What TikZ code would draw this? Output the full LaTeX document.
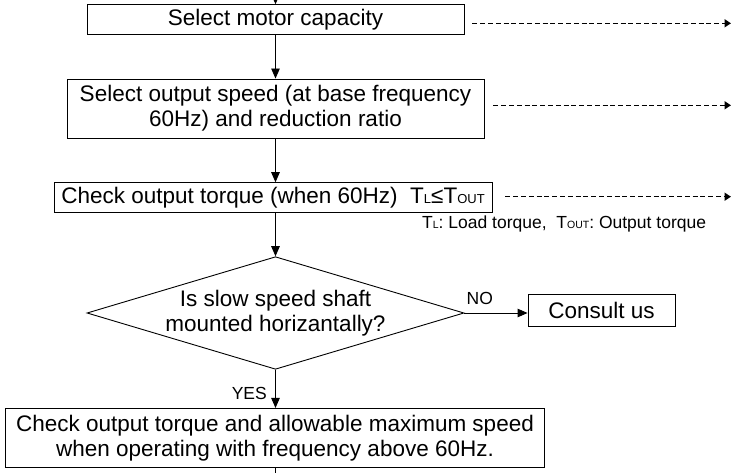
\documentclass[tikz,border=0pt]{standalone}
\usepackage{fontspec}
\setmainfont{Liberation Sans}
\usetikzlibrary{arrows.meta,shapes.geometric}
\newcommand{\subA}[1]{{\fontsize{13}{13}\selectfont #1}}
\newcommand{\subB}[1]{{\fontsize{10.5}{10.5}\selectfont #1}}
\begin{document}
\begin{tikzpicture}[x=1pt,y=-1pt,
  box/.style={draw, line width=0.9pt, inner sep=0pt, align=center, font=\fontsize{22.5}{25}\selectfont},
  decision/.style={diamond, draw, line width=0.9pt, shape aspect=3.35, inner sep=0pt, align=center, font=\fontsize{22.5}{24.5}\selectfont},
  flow/.style={line width=0.9pt, -{Triangle[length=10pt,width=8.5pt]}},
  dasharrow/.style={line width=1.5pt, dash pattern=on 5pt off 2.8pt, -{Triangle[length=6.5pt,width=8pt]}},
  lbl/.style={font=\fontsize{17.5}{20}\selectfont, inner sep=0pt}]
\useasboundingbox (0,0) rectangle (731,473);

\node[box, minimum width=377pt, minimum height=29.6pt] (b1) at (275.5,19.5) {Select motor capacity};
\node[box, minimum width=417pt, minimum height=59pt] (b2) at (275.5,108.5) {Select output speed (at base frequency\\60Hz) and reduction ratio};
\node[box, minimum width=438pt, minimum height=29.6pt] (b3) at (273,197.5) {Check output torque (when 60Hz)\ \ T\subA{L}≤T\subA{OUT}};
\node[decision, minimum width=377pt, minimum height=112.6pt] (dia) at (275.5,313) {Is slow speed shaft\\mounted horizantally?};
\node[box, minimum width=147pt, minimum height=31.3pt] (cu) at (601.5,310.4) {Consult us};
\node[box, minimum width=539pt, minimum height=59.2pt] (b5) at (275,438) {Check output torque and allowable maximum speed\\when operating with frequency above 60Hz.};

\node[lbl, anchor=base west] (legend) at (422,229) {T\subB{L}: Load torque,\ \ T\subB{OUT}: Output torque};
\node[lbl, anchor=base west] (no) at (466.5,304) {NO};
\node[lbl, anchor=base east] (yes) at (267,399.3) {YES};

\coordinate (top) at (275.5,-8);
\coordinate (bot) at (275.5,480);
\coordinate (e1) at (731,23.3);
\coordinate (e2) at (731,105.3);
\coordinate (e3) at (731,196.7);

\draw[flow] (top) -- (b1.north);
\draw[flow] (b1.south) -- (b2.north);
\draw[flow] (b2.south) -- (b2.south |- b3.north);
\draw[flow] (b2.south |- b3.south) -- (dia.north);
\draw[flow] (dia.east) -- (dia.east -| cu.west);
\draw[flow] (dia.south) -- (dia.south |- b5.north);
\draw[line width=0.9pt] (dia.south |- b5.south) -- (bot);

\draw[dasharrow, shorten <=8pt] (b1.east |- e1) -- (e1);
\draw[dasharrow, shorten <=9pt] (b2.east |- e2) -- (e2);
\draw[dasharrow, shorten <=13pt] (b3.east |- e3) -- (e3);
\end{tikzpicture}
\end{document}
